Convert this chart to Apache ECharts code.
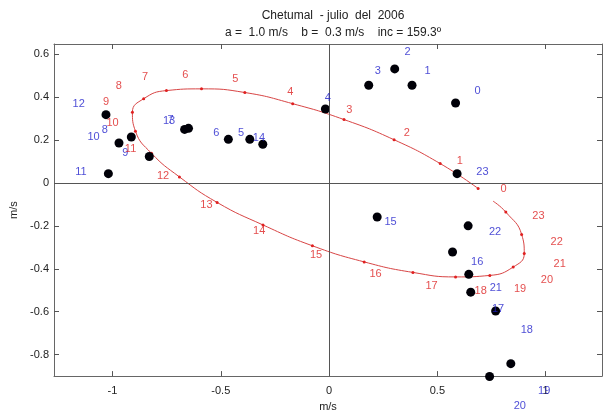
<!DOCTYPE html>
<html>
<head>
<meta charset="utf-8">
<script src="https://cdn.jsdelivr.net/npm/echarts@6/dist/echarts.min.js"></script>
<style>
html,body{margin:0;padding:0;background:#fff;}
#c{width:603px;height:417px;}
</style>
</head>
<body>
<div id="c"></div>
<script>
// hour labels
const hourLabels = ['0','1','2','3','4','5','6','7','8','9','10','11','12','13','14','15','16','17','18','19','20','21','22','23'];
// observed hourly currents (black dots), m/s
const obsU = [0.584, 0.383, 0.303, 0.183, -0.017, -0.366, -0.465, -0.649, -0.913, -0.830, -0.970, -1.019, -1.030, -0.667, -0.306, 0.222, 0.570, 0.654, 0.769, 0.839, 0.741, 0.645, 0.642, 0.591];
const obsV = [0.372, 0.455, 0.531, 0.455, 0.344, 0.203, 0.203, 0.254, 0.214, 0.123, 0.186, 0.043, 0.318, 0.249, 0.180, -0.159, -0.322, -0.509, -0.597, -0.842, -0.902, -0.426, -0.200, 0.043];
// fitted ellipse hourly positions (red), m/s
const ellU = [0.688, 0.513, 0.300, 0.069, -0.168, -0.389, -0.589, -0.751, -0.856, -0.908, -0.894, -0.820, -0.691, -0.517, -0.305, -0.077, 0.162, 0.387, 0.584, 0.742, 0.850, 0.901, 0.889, 0.816];
const ellV = [-0.026, 0.090, 0.201, 0.295, 0.369, 0.421, 0.438, 0.430, 0.392, 0.329, 0.241, 0.138, 0.028, -0.091, -0.196, -0.293, -0.368, -0.417, -0.438, -0.431, -0.392, -0.329, -0.240, -0.136];
// where the drawn ellipse curve stops after hour 23
const curveEndU = [0.757];
const curveEndV = [-0.085];
// axis ticks
const xTicks = [-1, -0.5, 0, 0.5, 1];
const yTicks = [-0.8, -0.6, -0.4, -0.2, 0, 0.2, 0.4, 0.6];
const labelScale = 1.15; // labels placed radially outward (as text(1.15*u,1.15*v))

const FONT = 'Liberation Sans';
const obsPts = obsU.map((u, i) => [u, obsV[i], hourLabels[i]]);
const ellPts = ellU.map((u, i) => [u, ellV[i], hourLabels[i]]);
const curvePts = ellPts.map(p => [p[0], p[1]]).concat(curveEndU.map((u, i) => [u, curveEndV[i]]));
const obsLab = obsPts.map(p => [p[0] * labelScale, p[1] * labelScale, p[2]]);
const ellLab = ellPts.map(p => [p[0] * labelScale, p[1] * labelScale, p[2]]);

const axisCommon = {
  type: 'value',
  splitLine: {show: false},
  axisLine: {show: true, onZero: false, lineStyle: {color: '#666', width: 1}},
  axisTick: {show: true, inside: true, length: 5, lineStyle: {color: '#555'}},
  axisLabel: {color: '#222', fontFamily: FONT, fontSize: 11}
};
const chart = echarts.init(document.getElementById('c'), null, {renderer: 'canvas'});
chart.setOption({
  backgroundColor: '#fff',
  animation: false,
  title: [
    {text: 'Chetumal  - julio  del  2006', left: 328, top: 5, textAlign: 'center',
     textStyle: {fontFamily: FONT, fontSize: 12, fontWeight: 'normal', color: '#222'}},
    {text: 'a =  1.0 m/s    b =  0.3 m/s    inc = 159.3º', left: 328, top: 22, textAlign: 'center',
     textStyle: {fontFamily: FONT, fontSize: 12, fontWeight: 'normal', color: '#222'}}
  ],
  grid: {left: 54, right: 1, top: 44, bottom: 38, containLabel: false},
  xAxis: [
    Object.assign({}, axisCommon, {position: 'bottom', min: -1.27, max: 1.26,
      name: 'm/s', nameLocation: 'middle', nameGap: 22,
      nameTextStyle: {fontFamily: FONT, fontSize: 11, color: '#222'},
      axisTick: Object.assign({}, axisCommon.axisTick, {customValues: xTicks}),
      axisLabel: Object.assign({}, axisCommon.axisLabel, {customValues: xTicks, margin: 9})}),
    Object.assign({}, axisCommon, {position: 'top', min: -1.27, max: 1.26,
      axisTick: Object.assign({}, axisCommon.axisTick, {customValues: xTicks}),
      axisLabel: {show: false}})
  ],
  yAxis: [
    Object.assign({}, axisCommon, {position: 'left', min: -0.9, max: 0.647,
      name: 'm/s', nameLocation: 'middle', nameGap: 27,
      nameTextStyle: {fontFamily: FONT, fontSize: 11, color: '#222'},
      axisTick: Object.assign({}, axisCommon.axisTick, {customValues: yTicks}),
      axisLabel: Object.assign({}, axisCommon.axisLabel, {customValues: yTicks, margin: 5})}),
    Object.assign({}, axisCommon, {position: 'right', min: -0.9, max: 0.647,
      axisTick: Object.assign({}, axisCommon.axisTick, {customValues: yTicks}),
      axisLabel: {show: false}})
  ],
  series: [
    {
      type: 'line', data: curvePts, smooth: 0.5, showSymbol: false, symbol: 'none',
      lineStyle: {color: '#d84545', width: 1}, z: 2, silent: true,
      markLine: {
        silent: true, symbol: ['none', 'none'], label: {show: false},
        lineStyle: {color: '#555', width: 1, type: 'solid'},
        data: [{xAxis: 0}, {yAxis: 0}]
      }
    },
    {
      type: 'scatter', data: ellPts, symbol: 'circle', symbolSize: 3,
      itemStyle: {color: '#e02020', opacity: 1}, z: 3, silent: true
    },
    {
      type: 'scatter', data: obsPts, symbol: 'circle', symbolSize: 9, clip: false,
      itemStyle: {color: '#000008', opacity: 1}, z: 4, silent: true
    },
    {
      type: 'scatter', data: obsLab, symbolSize: 0, clip: false, z: 5, silent: true,
      label: {show: true, position: 'right', distance: 0, formatter: p => p.data[2],
        color: '#2222cc', fontFamily: FONT, fontSize: 11}
    },
    {
      type: 'scatter', data: ellLab, symbolSize: 0, clip: false, z: 5, silent: true,
      label: {show: true, position: 'right', distance: 0, formatter: p => p.data[2],
        color: '#dd2222', fontFamily: FONT, fontSize: 11}
    }
  ]
});
</script>
</body>
</html>
